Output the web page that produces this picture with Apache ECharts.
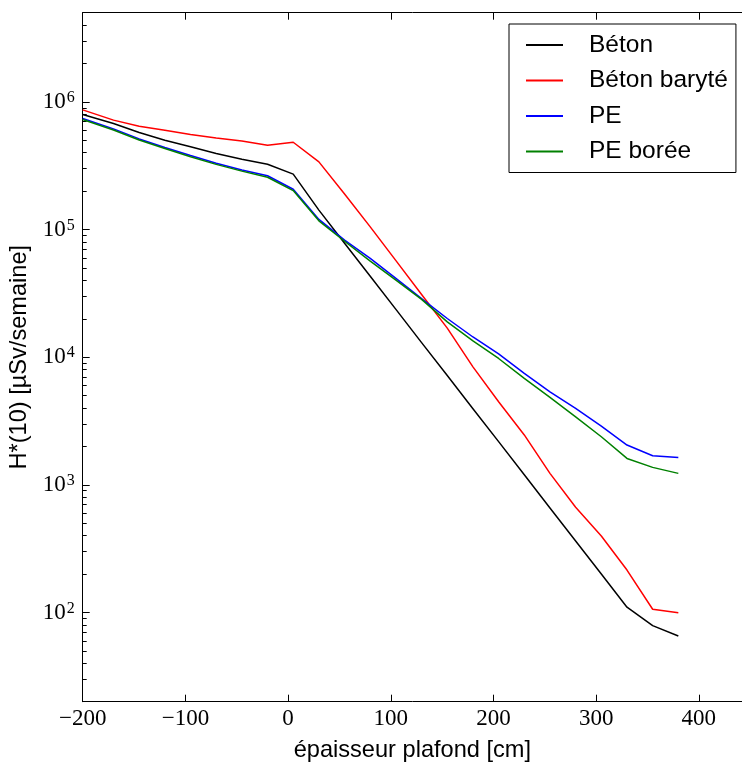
<!DOCTYPE html>
<html>
<head>
<meta charset="utf-8">
<script src="https://cdn.jsdelivr.net/npm/echarts@6/dist/echarts.min.js"></script>
<style>html,body{margin:0;padding:0;background:#fff;}#c{width:742px;height:762px;}</style>
</head>
<body>
<div id="c"></div>
<script>
const thickness = [-200,-170,-145,-120,-95,-70,-45,-20,5,30,55,80,105,130,155,180,205,230,255,280,305,330,355,380];
const beton = [7.96e5,6.77e5,5.76e5,5.01e5,4.45e5,3.95e5,3.56e5,3.25e5,2.72e5,1.42e5,7.81e4,4.31e4,2.37e4,1.30e4,7.18e3,3.95e3,2.18e3,1.20e3,659,363,200,110,78.9,65.5];
const betonBaryte = [8.66e5,7.2e5,6.45e5,6.0e5,5.56e5,5.22e5,4.95e5,4.58e5,4.83e5,3.39e5,1.9e5,1.05e5,5.71e4,3.1e4,1.69e4,8.4e3,4.48e3,2.46e3,1.23e3,667,397,215,106,99.6];
const pe = [7.41e5,6.15e5,5.13e5,4.40e5,3.80e5,3.31e5,2.93e5,2.64e5,2.07e5,1.20e5,8.26e4,5.94e4,4.14e4,2.88e4,2.01e4,1.44e4,1.06e4,7.47e3,5.36e3,3.97e3,2.88e3,2.05e3,1.69e3,1.64e3];
const peBoree = [7.28e5,6.03e5,5.03e5,4.31e5,3.72e5,3.24e5,2.87e5,2.57e5,2.02e5,1.17e5,8.1e4,5.66e4,4.02e4,2.84e4,1.89e4,1.34e4,9.77e3,6.82e3,4.84e3,3.41e3,2.38e3,1.61e3,1.37e3,1.23e3];
const seriesNames = ['Béton','Béton baryté','PE','PE borée'];
const seriesColors = ['#000000','#ff0000','#0000ff','#008000'];
const xTickLabels = {'-200':'\u2212200','-100':'\u2212100','0':'0','100':'100','200':'200','300':'300','400':'400'};
const xLabel = 'épaisseur plafond [cm]';
const yLabel = 'H*(10) [µSv/semaine]';

const allData = [beton, betonBaryte, pe, peBoree];
const chart = echarts.init(document.getElementById('c'), null, {renderer:'canvas'});
const serifFont = '"Liberation Serif", "DejaVu Serif", serif';
const sansFont = '"Liberation Sans", Arial, sans-serif';

const option = {
  animation: false,
  backgroundColor: '#ffffff',
  grid: {left: 82.7, right: 0, top: 12.7, bottom: 60.3, containLabel: false, outerBoundsMode: 'none'},
  legend: {
    orient: 'vertical',
    left: 509, top: 24,
    backgroundColor: '#ffffff',
    borderColor: '#000000', borderWidth: 1, borderRadius: 0,
    padding: [7, 8, 7, 16],
    itemWidth: 37, itemHeight: 14, itemGap: 7.5,
    itemStyle: {opacity: 0},
    textStyle: {fontFamily: sansFont, fontSize: 24.5, color: '#000', lineHeight: 28, padding: [0,0,0,21]},
    data: seriesNames
  },
  xAxis: [{
    type: 'value', min: -200, max: 442, interval: 100,
    position: 'bottom',
    name: xLabel, nameLocation: 'middle', nameGap: 37,
    nameTextStyle: {fontFamily: sansFont, fontSize: 23.6, color: '#000'},
    axisLine: {show: true, onZero: false, lineStyle: {color: '#000', width: 1}},
    axisTick: {show: true, inside: true, length: 7, lineStyle: {color: '#000'}},
    axisLabel: {fontFamily: serifFont, fontSize: 23, color: '#000', margin: 6,
      showMaxLabel: false,
      formatter: v => (xTickLabels[String(v)] !== undefined ? xTickLabels[String(v)] : '')},
    splitLine: {show: false}
  },{
    type: 'value', min: -200, max: 442, interval: 100,
    position: 'top',
    axisLine: {show: true, onZero: false, lineStyle: {color: '#000', width: 1}},
    axisTick: {show: true, inside: true, length: 7, lineStyle: {color: '#000'}},
    axisLabel: {show: false},
    splitLine: {show: false}
  }],
  yAxis: {
    type: 'log', logBase: 10, min: 20, max: 5e6,
    name: yLabel, nameLocation: 'middle', nameGap: 45, nameRotate: 90,
    nameTextStyle: {fontFamily: sansFont, fontSize: 23.6, color: '#000'},
    axisLine: {show: true, onZero: false, lineStyle: {color: '#000', width: 1}},
    axisTick: {show: true, inside: true, length: 7, lineStyle: {color: '#000'}},
    minorTick: {show: true, splitNumber: 9, length: 4, lineStyle: {color: '#000'}},
    axisLabel: {
      margin: 8,
      formatter: function (v) {
        const e = Math.round(Math.log10(v));
        if (Math.abs(v - Math.pow(10, e)) > 1e-6 * v) return '';
        return '{b|10}{s|' + e + '}';
      },
      rich: {
        b: {fontFamily: serifFont, fontSize: 23, color: '#000'},
        s: {fontFamily: serifFont, fontSize: 16, color: '#000', verticalAlign: 'top', padding: [0,0,8,1]}
      }
    },
    splitLine: {show: false}
  },
  series: seriesNames.map((n, i) => ({
    name: n, type: 'line', xAxisIndex: 0,
    data: thickness.map((x, j) => [x, allData[i][j]]),
    symbol: 'none', showSymbol: false,
    lineStyle: {color: seriesColors[i], width: 1.5},
    itemStyle: {color: seriesColors[i]},
    clip: true
  }))
};
chart.setOption(option);
</script>
</body>
</html>
